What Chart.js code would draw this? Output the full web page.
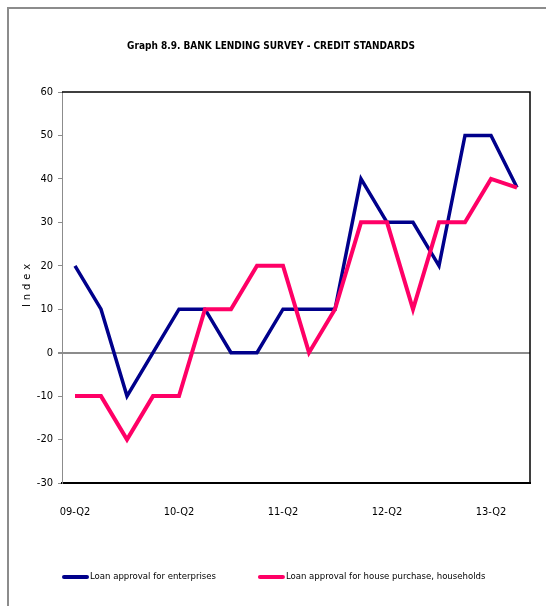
<!DOCTYPE html>
<html>
<head>
<meta charset="utf-8">
<title>Bank lending survey - credit standards</title>
<script src="https://cdn.jsdelivr.net/npm/chart.js@4/dist/chart.umd.min.js"></script>
<style>
  html, body { margin: 0; padding: 0; background: #ffffff; }
  #wrap { position: relative; width: 546px; height: 606px; }
</style>
</head>
<body>
<div id="wrap"><canvas id="chart" width="546" height="606"></canvas></div>
<script>
// Quarters covered by the survey
const quarters = [
  '09-Q2', '09-Q3', '09-Q4', '10-Q1',
  '10-Q2', '10-Q3', '10-Q4', '11-Q1',
  '11-Q2', '11-Q3', '11-Q4', '12-Q1',
  '12-Q2', '12-Q3', '12-Q4', '13-Q1',
  '13-Q2', '13-Q3'
];

// Credit standards index, loans to enterprises
const enterprises = [20, 10, -10, 0, 10, 10, 0, 0, 10, 10, 10, 40, 30, 30, 20, 50, 50, 38];

// Credit standards index, loans for house purchase
const households = [-10, -10, -20, -10, -10, 10, 10, 20, 20, 0, 10, 30, 30, 10, 30, 30, 40, 38];

// Only the Q2 labels are printed on the category axis
const shownTicks = ['09-Q2', '10-Q2', '11-Q2', '12-Q2', '13-Q2'];

// Value axis range and its caption
const yMin = -30;
const yMax = 60;
const yStep = 10;
const yCaption = 'Index';

const FONT = "'Liberation Sans Narrow', 'DejaVu Sans Condensed', 'Open Sans', sans-serif";
const BLUE = '#00008b';
const PINK = '#ff0066';

// Outer frame plus the black top/right edges of the plot area
const framePlugin = {
  id: 'frame',
  beforeDraw(chart) {
    const ctx = chart.ctx;
    ctx.save();
    ctx.fillStyle = '#ffffff';
    ctx.fillRect(0, 0, chart.width, chart.height);
    ctx.strokeStyle = '#8c8c8c';
    ctx.lineWidth = 2;
    ctx.beginPath();
    ctx.moveTo(8, chart.height);
    ctx.lineTo(8, 8);
    ctx.lineTo(chart.width, 8);
    ctx.stroke();
    ctx.restore();
  },
  beforeDatasetsDraw(chart) {
    const {ctx, chartArea: a} = chart;
    ctx.save();
    ctx.strokeStyle = '#000000';
    ctx.lineWidth = 1.5;
    ctx.beginPath();
    ctx.moveTo(a.left, a.top);
    ctx.lineTo(a.right, a.top);
    ctx.lineTo(a.right, a.bottom);
    ctx.stroke();
    ctx.restore();
  }
};

// Letter-spaced caption of the value axis, centred on the plot height
const axisCaptionPlugin = {
  id: 'axisCaption',
  afterDraw(chart) {
    const ctx = chart.ctx;
    const a = chart.chartArea;
    ctx.save();
    ctx.translate(27, (a.top + a.bottom) / 2 - 2);
    ctx.rotate(-Math.PI / 2);
    ctx.font = '11px ' + FONT;
    ctx.letterSpacing = '4px';
    ctx.fillStyle = '#000000';
    ctx.textAlign = 'center';
    ctx.textBaseline = 'middle';
    ctx.fillText(yCaption, 2, 0);
    ctx.restore();
  }
};

// Single-row legend below the axis: line sample + series name
const lineLegendPlugin = {
  id: 'lineLegend',
  afterDraw(chart) {
    const ctx = chart.ctx;
    const a = chart.chartArea;
    const y = a.bottom + 94;
    const gap = 42;
    ctx.save();
    ctx.font = '9.5px ' + FONT;
    ctx.textBaseline = 'middle';
    ctx.textAlign = 'left';
    let x = a.left;
    chart.data.datasets.forEach((ds) => {
      ctx.strokeStyle = ds.borderColor;
      ctx.lineWidth = 4;
      ctx.lineCap = 'round';
      ctx.beginPath();
      ctx.moveTo(x + 2, y);
      ctx.lineTo(x + 25, y);
      ctx.stroke();
      ctx.fillStyle = '#000000';
      ctx.fillText(ds.label, x + 28, y);
      x += 28 + ctx.measureText(ds.label).width + gap;
    });
    ctx.restore();
  }
};

new Chart(document.getElementById('chart'), {
  type: 'line',
  data: {
    labels: quarters,
    datasets: [
      {
        label: 'Loan approval for enterprises',
        data: enterprises,
        borderColor: BLUE,
        backgroundColor: BLUE,
        borderWidth: 3.5,
        pointRadius: 0,
        tension: 0,
        order: 1
      },
      {
        label: 'Loan approval for house purchase, households',
        data: households,
        borderColor: PINK,
        backgroundColor: PINK,
        borderWidth: 4,
        pointRadius: 0,
        tension: 0,
        order: 0
      }
    ]
  },
  options: {
    responsive: false,
    animation: false,
    devicePixelRatio: 1,
    layout: { padding: { top: 0, left: 12, right: 16, bottom: 84 } },
    plugins: {
      title: {
        display: true,
        text: 'Graph 8.9. BANK LENDING SURVEY - CREDIT STANDARDS',
        color: '#000000',
        font: { family: FONT, size: 10, weight: 'bold' },
        padding: { top: 40, bottom: 40 }
      },
      legend: { display: false },
      tooltip: { enabled: false }
    },
    scales: {
      x: {
        offset: true,
        afterFit(scale) { scale.height = 39; },
        grid: { display: false, drawTicks: false },
        border: { color: '#000000', width: 2 },
        ticks: {
          autoSkip: false,
          maxRotation: 0,
          padding: 23,
          color: '#000000',
          font: { family: FONT, size: 11 },
          callback(value) {
            const lab = quarters[value];
            return shownTicks.includes(lab) ? lab : '';
          }
        }
      },
      y: {
        min: yMin,
        max: yMax,
        afterFit(scale) { scale.width = 50; },
        border: { color: '#8c8c8c', width: 1 },
        grid: {
          drawOnChartArea: true,
          tickLength: 4,
          tickColor: '#8c8c8c',
          color: (c) => (c.tick && c.tick.value === 0 ? '#8c8c8c' : 'rgba(0,0,0,0)'),
          lineWidth: (c) => (c.tick && c.tick.value === 0 ? 2 : 1)
        },
        ticks: {
          stepSize: yStep,
          padding: 5,
          color: '#000000',
          font: { family: FONT, size: 11 }
        }
      }
    }
  },
  plugins: [framePlugin, axisCaptionPlugin, lineLegendPlugin]
});
</script>
</body>
</html>
